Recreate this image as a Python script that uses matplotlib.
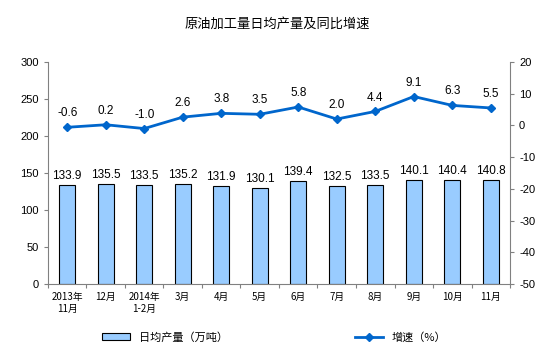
import matplotlib.pyplot as plt
import numpy as np

plt.rcParams['font.family'] = ['Noto Sans CJK SC', 'DejaVu Sans']
plt.rcParams['axes.unicode_minus'] = False

months = ['2013年\n11月', '12月', '2014年\n1-2月', '3月', '4月', '5月',
          '6月', '7月', '8月', '9月', '10月', '11月']
output = [133.9, 135.5, 133.5, 135.2, 131.9, 130.1, 139.4, 132.5, 133.5, 140.1, 140.4, 140.8]
growth = [-0.6, 0.2, -1.0, 2.6, 3.8, 3.5, 5.8, 2.0, 4.4, 9.1, 6.3, 5.5]

fig = plt.figure(figsize=(5.54, 3.53), dpi=100)
ax = fig.add_axes([0.0866, 0.1955, 0.834, 0.629])
x = np.arange(len(months))

bars = ax.bar(x, output, width=0.42, color='#99CCFF', edgecolor='black', linewidth=0.8,
              label='日均产量（万吨）')
for xi, v in zip(x, output):
    ax.text(xi, v + 4, f'{v:.1f}', ha='center', va='bottom', fontsize=8.5,
            family='Liberation Sans')

ax.set_xlim(-0.5, len(months) - 0.5)
ax.set_ylim(0, 300)
ax.set_yticks(range(0, 301, 50))
ax.set_xticks(np.arange(-0.5, len(months), 1))
ax.set_xticklabels([])
ax.set_xticks(x, minor=True)
ax.set_xticklabels(months, minor=True, fontsize=7)
ax.tick_params(axis='x', which='minor', length=0, pad=6)
ax.tick_params(axis='x', which='major', length=3, color='#808080')
ax.tick_params(axis='y', labelsize=8, length=3, color='#808080')
for lab in ax.get_yticklabels():
    lab.set_family('Liberation Sans')
ax.spines['top'].set_visible(False)
ax.spines['right'].set_visible(False)
for s in ['left', 'bottom']:
    ax.spines[s].set_color('#808080')

ax2 = ax.twinx()
ln, = ax2.plot(x, growth, color='#0066CC', marker='D', markersize=4, linewidth=2,
               label='增速（%）')
for xi, v in zip(x, growth):
    ax2.text(xi, v + 2.5, f'{v:.1f}', ha='center', va='bottom', fontsize=8.5,
             family='Liberation Sans')
ax2.set_ylim(-50, 20)
ax2.set_yticks(range(-50, 21, 10))
ax2.tick_params(axis='y', labelsize=8, length=3, color='#808080')
for lab in ax2.get_yticklabels():
    lab.set_family('Liberation Sans')
for s in ['top', 'left', 'bottom']:
    ax2.spines[s].set_visible(False)
ax2.spines['right'].set_color('#808080')

fig.text(0.5, 0.93, '原油加工量日均产量及同比增速', ha='center', va='center', fontsize=9.5)

fig.legend([bars, ln], ['日均产量（万吨）', '增速（%）'], loc='center',
           bbox_to_anchor=(0.495, 0.045), ncol=2, frameon=False, fontsize=8,
           columnspacing=11.5, handlelength=2.5)

fig.savefig('out.png', dpi=100)
